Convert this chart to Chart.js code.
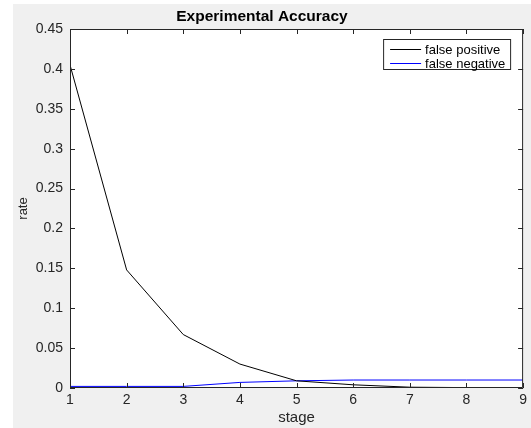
<!DOCTYPE html>
<html lang="en">
<head>
    <meta charset="UTF-8">
    <title>Experimental Accuracy</title>
    <style>
        html, body { margin: 0; padding: 0; background: #fff; }
        #wrap { width: 531px; height: 428px; }
    </style>
</head>
<body>
    <div id="wrap">
        <canvas id="myChart" width="531" height="428"></canvas>
    </div>
    <script src="https://cdn.jsdelivr.net/npm/chart.js"></script>
    <script>
        const stages = [1, 2, 3, 4, 5, 6, 7, 8, 9];
        const falsePositive = [0.405, 0.148, 0.067, 0.030, 0.009, 0.004, 0.001, 0.0005];
        const falseNegative = [0.002, 0.002, 0.002, 0.007, 0.009, 0.010, 0.010, 0.010, 0.010];
        const yTicks = [0, 0.05, 0.1, 0.15, 0.2, 0.25, 0.3, 0.35, 0.4, 0.45];
        const seriesNames = ["false positive", "false negative"];
        const seriesColors = ["#000000", "#0000ff"];

        const axisColor = "#262626";
        const fontFamily = "'Liberation Sans', Arial, Helvetica, sans-serif";

        const toPoints = (vals) => vals.map((v, i) => ({ x: stages[i], y: v }));

        // MATLAB-ish frame: grey figure, white axes box, inward ticks, legend box
        const matlabFrame = {
            id: 'matlabFrame',
            beforeDraw(chart) {
                const { ctx, chartArea: a } = chart;
                ctx.save();
                ctx.fillStyle = '#ffffff';
                ctx.fillRect(0, 0, chart.width, chart.height);
                ctx.fillStyle = '#f0f0f0';
                ctx.fillRect(13, 4, chart.width - 13, chart.height - 4);
                ctx.fillStyle = '#ffffff';
                ctx.fillRect(a.left, a.top, a.right - a.left, a.bottom - a.top);
                ctx.restore();
            },
            afterDatasetsDraw(chart) {
                const { ctx, chartArea: a, scales } = chart;
                const tl = 5;
                ctx.save();
                ctx.strokeStyle = axisColor;
                ctx.lineWidth = 1;
                ctx.beginPath();
                ctx.rect(a.left + 0.5, a.top + 0.5, a.right - a.left - 1, a.bottom - a.top - 1);
                stages.forEach(s => {
                    const x = Math.round(scales.x.getPixelForValue(s)) + 0.5;
                    ctx.moveTo(x, a.bottom); ctx.lineTo(x, a.bottom - tl);
                    ctx.moveTo(x, a.top); ctx.lineTo(x, a.top + tl);
                });
                yTicks.forEach(t => {
                    const y = Math.round(scales.y.getPixelForValue(t)) + 0.5;
                    ctx.moveTo(a.left, y); ctx.lineTo(a.left + tl, y);
                    ctx.moveTo(a.right, y); ctx.lineTo(a.right - tl, y);
                });
                ctx.stroke();

                // legend
                const bw = 127, bh = 30;
                const bx = a.right - 13 - bw, by = a.top + 10;
                ctx.fillStyle = '#ffffff';
                ctx.fillRect(bx, by, bw, bh);
                ctx.strokeStyle = axisColor;
                ctx.strokeRect(bx + 0.5, by + 0.5, bw, bh);
                ctx.font = '13px ' + fontFamily;
                ctx.textBaseline = 'middle';
                ctx.textAlign = 'left';
                seriesNames.forEach((name, i) => {
                    const y = by + 10 + i * 14;
                    ctx.strokeStyle = seriesColors[i];
                    ctx.beginPath();
                    ctx.moveTo(bx + 7, y + 0.5);
                    ctx.lineTo(bx + 38, y + 0.5);
                    ctx.stroke();
                    ctx.fillStyle = '#000000';
                    ctx.fillText(name, bx + 42, y + 1);
                });
                ctx.restore();
            }
        };

        new Chart(document.getElementById('myChart'), {
            type: 'line',
            data: {
                datasets: [
                    {
                        label: seriesNames[0],
                        data: toPoints(falsePositive),
                        borderColor: seriesColors[0],
                        borderWidth: 1,
                        pointRadius: 0,
                        tension: 0
                    },
                    {
                        label: seriesNames[1],
                        data: toPoints(falseNegative),
                        borderColor: seriesColors[1],
                        borderWidth: 1,
                        pointRadius: 0,
                        tension: 0
                    }
                ]
            },
            options: {
                responsive: false,
                animation: false,
                events: [],
                layout: { padding: { left: 0, right: 7, top: 0, bottom: 0 } },
                plugins: {
                    legend: { display: false },
                    tooltip: { enabled: false },
                    title: {
                        display: true,
                        text: 'Experimental Accuracy',
                        color: '#000000',
                        font: { family: fontFamily, size: 15.5, weight: 'bold', lineHeight: 1.2 },
                        padding: { top: 7, bottom: 3.4 }
                    }
                },
                scales: {
                    x: {
                        type: 'linear',
                        min: 1,
                        max: 9,
                        afterFit: (s) => { s.height = 40; },
                        afterBuildTicks: (s) => { s.ticks = stages.map(v => ({ value: v })); },
                        grid: { display: false, drawTicks: false },
                        border: { display: false },
                        ticks: {
                            color: axisColor,
                            padding: 4,
                            maxRotation: 0,
                            font: { family: fontFamily, size: 14 }
                        },
                        title: {
                            display: true,
                            text: 'stage',
                            color: axisColor,
                            font: { family: fontFamily, size: 15, lineHeight: 1.2 },
                            padding: { top: 0, bottom: 1 }
                        }
                    },
                    y: {
                        min: 0,
                        max: 0.45,
                        afterFit: (s) => { s.width = 70; },
                        afterBuildTicks: (s) => { s.ticks = yTicks.map(v => ({ value: v })); },
                        grid: { display: false, drawTicks: false },
                        border: { display: false },
                        ticks: {
                            color: axisColor,
                            padding: 7,
                            font: { family: fontFamily, size: 14 },
                            callback: (v) => String(parseFloat(Number(v).toFixed(2)))
                        },
                        title: {
                            display: true,
                            text: 'rate',
                            color: axisColor,
                            font: { family: fontFamily, size: 13, lineHeight: 1.2 },
                            padding: { top: 16, bottom: 0 }
                        }
                    }
                }
            },
            plugins: [matlabFrame]
        });
    </script>
</body>
</html>
